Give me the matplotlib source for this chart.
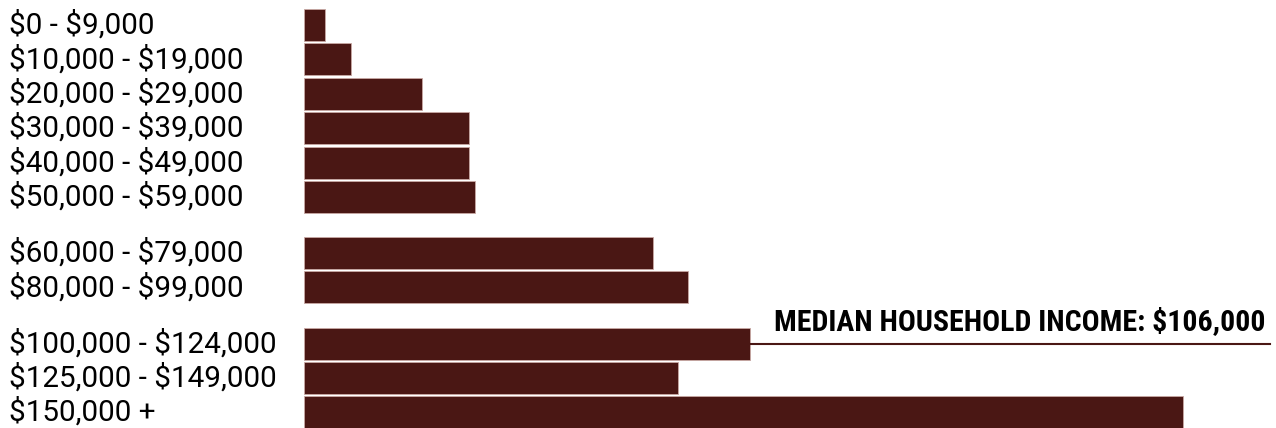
import os
import matplotlib.pyplot as plt
from matplotlib.font_manager import FontProperties

plt.rcParams["text.parse_math"] = False

# household income distribution (share of households, %)
brackets = ["$0 - $9,000", "$10,000 - $19,000", "$20,000 - $29,000",
            "$30,000 - $39,000", "$40,000 - $49,000", "$50,000 - $59,000",
            "$60,000 - $79,000", "$80,000 - $99,000",
            "$100,000 - $124,000", "$125,000 - $149,000", "$150,000 +"]
shares = [0.67, 1.5, 3.8, 5.3, 5.3, 5.5, 11.2, 12.3, 14.3, 12.0, 28.2]
# row positions, with gaps between the three groups
rows = [0, 1, 2, 3, 4, 5, 6.63, 7.63, 9.26, 10.26, 11.26]
median_label = "MEDIAN HOUSEHOLD INCOME: $106,000"
median_row = 8  # bracket that holds the median

bar_color = "#4a1714"

cond_bold = "/usr/share/fonts/truetype/roboto/unhinted/RobotoCondensed-Bold.ttf"
if os.path.exists(cond_bold):
    head_font = FontProperties(fname=cond_bold, size=21.5)
else:
    head_font = FontProperties(family="Roboto Condensed", weight="bold", size=21.5)

fig = plt.figure(figsize=(12.76, 4.28), dpi=100)
ax = fig.add_axes([304 / 1276, 0, 966 / 1276, 1])

ax.barh(rows, shares, height=0.93, color=bar_color, edgecolor="#c8a8a4", linewidth=0.6)
ax.set_xlim(0, 966 / 31.18)
ax.set_ylim(11.715, -0.727)
ax.axis("off")

for r, lab in zip(rows, brackets):
    ax.annotate(lab, xy=(9 / 1276, r), xycoords=("figure fraction", "data"),
                fontsize=21.3, family="Roboto", color="black", va="center", ha="left")

xmax = ax.get_xlim()[1]
ax.plot([shares[median_row], xmax], [rows[median_row], rows[median_row]],
        color=bar_color, linewidth=1.5, clip_on=False)
ax.annotate(median_label, xy=(1266 / 1276, rows[median_row]),
            xycoords=("figure fraction", "data"), xytext=(0, 7), textcoords="offset pixels",
            fontproperties=head_font, color="black", ha="right", va="bottom")

fig.savefig("out.png", dpi=100)
